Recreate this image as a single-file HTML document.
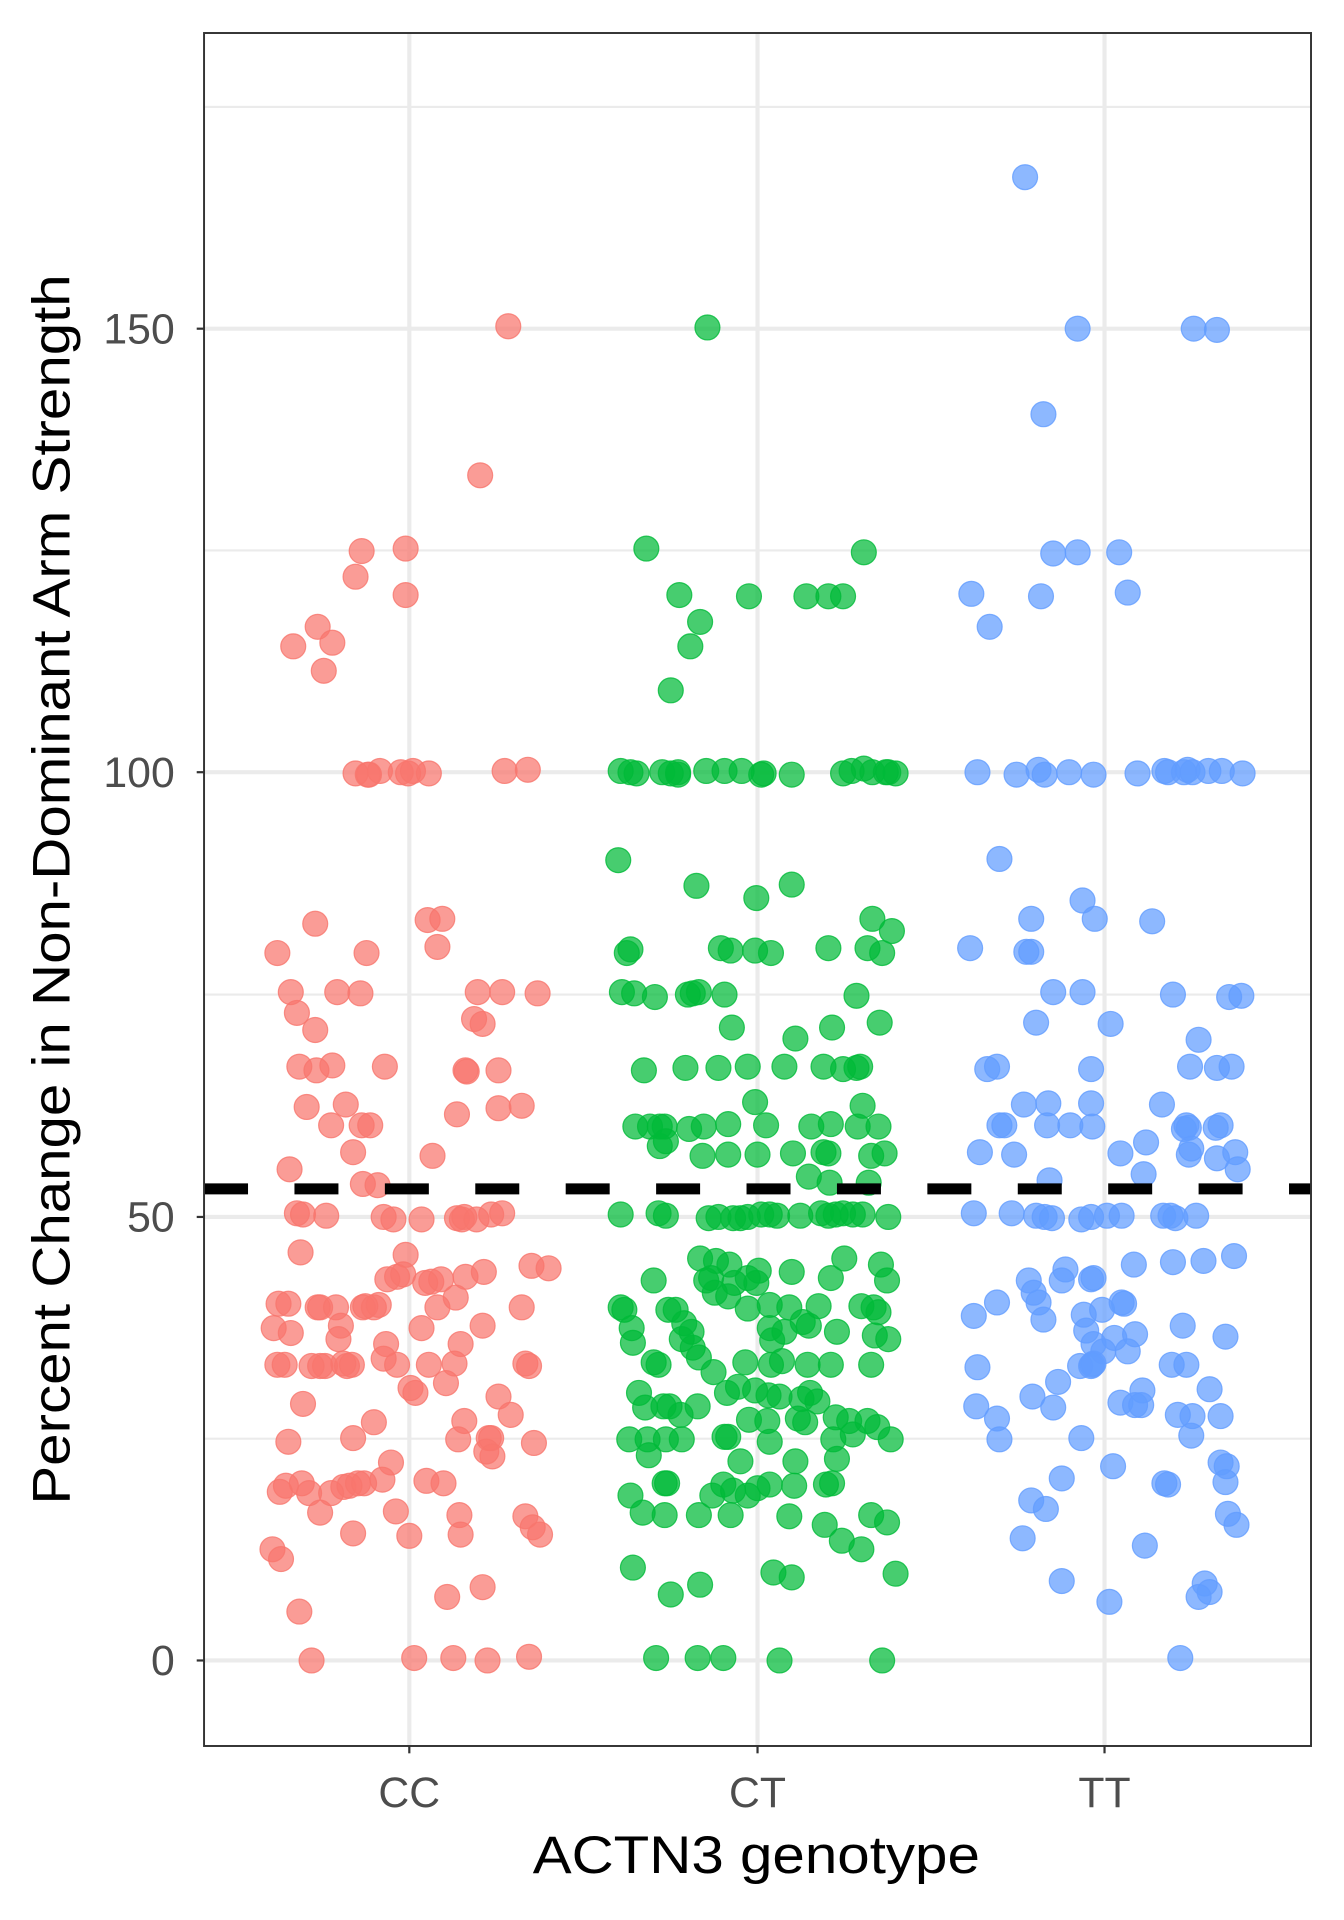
<!DOCTYPE html>
<html><head><meta charset="utf-8"><style>
html,body{margin:0;padding:0;background:#fff;}
svg{display:block;}
text{font-family:"Liberation Sans",Arial,sans-serif;}
</style></head><body>
<svg id="s" width="1344" height="1920" viewBox="0 0 1100 1571.4" xmlns="http://www.w3.org/2000/svg">
<rect x="0" y="0" width="1100" height="1571.4" fill="#fff"/>
<g stroke="#EBEBEB">
<g stroke-width="1.8">
<line x1="167" x2="1073" y1="87.5" y2="87.5"/><line x1="167" x2="1073" y1="450.5" y2="450.5"/>
<line x1="167" x2="1073" y1="814" y2="814"/><line x1="167" x2="1073" y1="1177.5" y2="1177.5"/>
</g>
<g stroke-width="3.4">
<line x1="167" x2="1073" y1="269" y2="269"/><line x1="167" x2="1073" y1="632" y2="632"/>
<line x1="167" x2="1073" y1="996" y2="996"/><line x1="167" x2="1073" y1="1359" y2="1359"/>
<line x1="335" x2="335" y1="27" y2="1429"/><line x1="620" x2="620" y1="27" y2="1429"/><line x1="904" x2="904" y1="27" y2="1429"/>
</g></g>
<g id="pts"></g>
<line x1="167" x2="1073" y1="973" y2="973" stroke="#000" stroke-width="9" stroke-dasharray="36 38"/>
<rect x="167" y="27" width="906" height="1402" fill="none" stroke="#333" stroke-width="1.6"/>
<g stroke="#333" stroke-width="1.8">
<line x1="161" x2="167" y1="269" y2="269"/><line x1="161" x2="167" y1="632" y2="632"/>
<line x1="161" x2="167" y1="996" y2="996"/><line x1="161" x2="167" y1="1359" y2="1359"/>
<line x1="335" x2="335" y1="1429" y2="1435"/><line x1="620" x2="620" y1="1429" y2="1435"/><line x1="904" x2="904" y1="1429" y2="1435"/>
</g>
<g fill="#4D4D4D" font-size="35" text-anchor="end">
<text x="143" y="281">150</text><text x="143" y="644">100</text><text x="143" y="1008">50</text><text x="143" y="1371">0</text>
</g>
<g fill="#4D4D4D" font-size="35" text-anchor="middle">
<text x="335" y="1479">CC</text><text x="620" y="1479">CT</text><text x="904" y="1479">TT</text>
</g>
<text x="619" y="1533" font-size="43" text-anchor="middle" textLength="366" lengthAdjust="spacingAndGlyphs">ACTN3 genotype</text>
<text transform="translate(57,728) rotate(-90)" font-size="43" text-anchor="middle" textLength="1007" lengthAdjust="spacingAndGlyphs">Percent Change in Non-Dominant Arm Strength</text>
</svg>
<script>
var R=[416,267,393,389,296,451,332,449,291,472,332,487,240,529,260,513,272,526,265,549,291,633,301,634,311,631,302,634,328,632,338,631,351,633,413,631,432,630,334,633,258,756,227,780,300,780,350,753,362,752,358,775,238,812,243,829,276,812,295,813,258,843,245,873,272,872,259,876,391,812,411,812,440,813,388,834,395,838,315,873,381,876,382,877,408,876,251,906,283,904,271,921,296,921,303,921,427,905,374,912,408,907,289,943,237,957,354,946,297,969,309,970,243,993,248,994,267,995,314,996,322,998,345,998,374,997,380,996,402,994,411,993,378,998,390,998,246,1025,332,1027,325,1045,330,1043,353,1049,317,1047,348,1050,361,1047,381,1045,396,1041,435,1036,449,1038,228,1067,236,1067,260,1070,262,1070,297,1070,306,1070,310,1068,275,1070,299,1069,358,1070,373,1062,427,1070,224,1087,238,1091,279,1085,277,1096,345,1087,316,1100,377,1100,395,1085,314,1112,266,1118,284,1118,281,1116,325,1117,351,1117,372,1116,430,1116,433,1118,227,1117,233,1117,255,1118,262,1118,288,1117,336,1136,365,1132,340,1140,248,1149,408,1143,306,1164,380,1163,418,1158,236,1180,289,1177,375,1178,400,1177,437,1181,403,1192,398,1188,320,1197,402,1177,247,1214,234,1216,229,1221,281,1217,293,1214,298,1214,313,1211,349,1212,363,1214,286,1216,271,1222,253,1222,262,1238,324,1237,376,1240,289,1255,335,1257,377,1256,430,1241,436,1250,442,1256,223,1268,230,1276,366,1307,395,1299,245,1319,255,1359,339,1357,371,1357,399,1359,433,1356];
var G=[579,268,529,449,556,487,613,488,660,488,678,488,690,488,707,452,573,509,565,529,549,565,508,631,516,632,521,633,542,632,549,633,555,632,578,631,607,631,593,631,623,634,625,633,648,634,690,633,697,631,707,629,714,632,725,632,733,633,727,632,555,634,506,704,570,725,648,724,619,735,714,752,730,762,516,777,513,780,590,776,598,778,618,778,631,780,678,776,710,776,722,780,509,812,519,813,536,816,563,814,567,813,572,812,593,814,701,815,599,841,720,837,681,841,651,850,527,876,561,874,588,874,612,873,642,873,674,873,690,875,701,874,704,873,618,902,706,905,520,922,532,922,540,922,544,922,564,924,576,922,596,920,627,921,664,922,680,920,702,922,719,922,540,938,545,934,575,946,596,945,620,945,649,944,674,943,678,944,713,946,724,944,662,963,679,968,711,968,508,994,539,993,545,995,580,997,588,996,600,997,606,997,612,996,623,994,630,994,636,995,655,995,672,993,684,994,690,993,698,994,706,994,727,996,678,995,573,1030,586,1032,597,1035,621,1040,691,1030,721,1035,535,1048,578,1048,582,1046,601,1050,612,1046,619,1050,648,1041,680,1046,726,1048,508,1070,511,1072,547,1072,553,1072,585,1058,596,1061,612,1071,630,1068,646,1070,670,1069,705,1069,715,1070,719,1074,517,1087,560,1083,566,1090,558,1096,630,1087,632,1097,642,1090,657,1082,662,1085,685,1090,716,1093,727,1096,518,1099,567,1103,572,1111,610,1115,631,1117,640,1114,661,1117,680,1117,713,1117,535,1115,539,1117,584,1123,604,1135,618,1138,595,1140,629,1142,638,1143,656,1145,663,1140,669,1147,523,1140,528,1152,543,1151,548,1151,557,1158,571,1151,613,1162,628,1163,653,1161,659,1164,684,1160,695,1163,710,1163,515,1178,530,1178,545,1178,558,1178,593,1176,596,1176,630,1180,682,1178,698,1174,718,1168,729,1178,531,1191,606,1196,651,1196,685,1194,544,1214,546,1214,592,1215,600,1220,620,1218,630,1215,650,1216,676,1215,681,1214,516,1224,583,1224,526,1238,544,1240,572,1240,598,1240,612,1224,646,1241,675,1248,713,1240,726,1246,689,1261,705,1268,518,1283,633,1287,648,1291,733,1288,549,1305,573,1297,537,1357,571,1357,592,1357,638,1359,722,1359];
var B=[839,145,882,269,977,269,996,270,854,339,862,453,882,452,916,452,795,486,852,488,923,485,810,513,800,632,832,634,850,630,855,634,875,632,895,634,931,633,953,631,956,632,969,632,972,630,976,632,989,631,1000,631,1017,633,818,703,886,737,896,752,943,754,844,752,794,776,840,779,844,779,862,812,886,812,960,814,1006,816,1016,815,848,837,909,838,981,851,808,875,816,873,893,875,974,873,996,874,1008,873,838,904,858,903,893,903,894,922,951,904,818,921,822,921,857,921,876,921,969,924,971,921,973,923,995,923,999,921,938,935,996,948,802,943,830,945,917,944,973,945,1011,943,1013,957,936,961,859,966,975,940,797,993,828,993,848,995,855,996,861,997,885,998,893,996,906,995,918,995,952,995,958,995,979,995,962,997,872,1039,893,1047,928,1035,960,1033,985,1032,1010,1028,869,1048,895,1046,842,1048,816,1066,846,1058,850,1066,854,1080,797,1077,887,1076,902,1072,920,1067,918,1066,889,1089,895,1100,912,1095,929,1092,903,1106,923,1106,884,1118,893,1118,895,1116,894,1117,800,1119,959,1117,968,1085,971,1117,1003,1094,866,1131,917,1148,929,1150,935,1138,934,1150,990,1137,799,1151,816,1161,818,1178,845,1143,862,1152,885,1177,976,1159,964,1158,999,1159,975,1175,999,1197,1004,1200,1003,1213,911,1200,869,1210,953,1214,956,1215,844,1228,856,1235,1005,1239,1012,1248,837,1259,937,1265,869,1294,908,1311,986,1296,990,1303,981,1307,966,1357];
var g=document.getElementById('pts'),ns='http://www.w3.org/2000/svg';
function add(a,c){for(var i=0;i<a.length;i+=2){var e=document.createElementNS(ns,'circle');e.setAttribute('cx',a[i]);e.setAttribute('cy',a[i+1]);e.setAttribute('r',10.2);e.setAttribute('fill',c);e.setAttribute('fill-opacity','0.72');e.setAttribute('stroke',c);e.setAttribute('stroke-opacity','0.8');e.setAttribute('stroke-width','1');g.appendChild(e);}}
add(R,'#F8766D');add(G,'#00BA38');add(B,'#619CFF');
</script>
</body></html>
